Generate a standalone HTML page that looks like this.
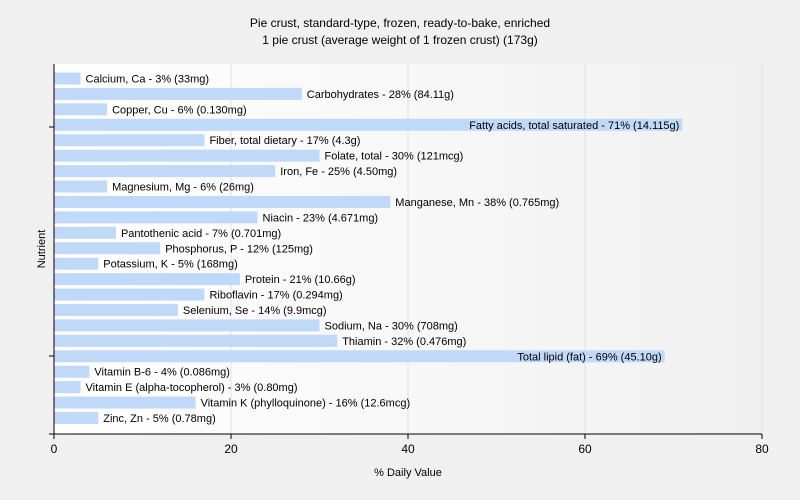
<!DOCTYPE html>
<html><head><meta charset="utf-8"><style>
body{margin:0;background:#f0f0f0;font-family:"Liberation Sans",sans-serif;}
svg{display:block}
</style></head><body>
<svg id="c" width="800" height="500">
<defs><linearGradient id="g" x1="0" x2="1"><stop offset="0" stop-color="#ffffff"/><stop offset="1" stop-color="#f0f0f0"/></linearGradient></defs>
<text x="400" y="27" text-anchor="middle" font-size="12">Pie crust, standard-type, frozen, ready-to-bake, enriched</text>
<text x="400" y="44" text-anchor="middle" font-size="12">1 pie crust (average weight of 1 frozen crust) (173g)</text>
<rect x="54" y="64" width="708" height="370" fill="url(#g)"/>
<g id="grid"></g><g id="bars"></g><g id="axes"></g>
<text x="408" y="476" text-anchor="middle" font-size="11">% Daily Value</text>
<text transform="translate(45,249) rotate(-90)" text-anchor="middle" font-size="11">Nutrient</text>
</svg>
<script>
const categories=["Calcium, Ca","Carbohydrates","Copper, Cu","Fatty acids, total saturated","Fiber, total dietary","Folate, total","Iron, Fe","Magnesium, Mg","Manganese, Mn","Niacin","Pantothenic acid","Phosphorus, P","Potassium, K","Protein","Riboflavin","Selenium, Se","Sodium, Na","Thiamin","Total lipid (fat)","Vitamin B-6","Vitamin E (alpha-tocopherol)","Vitamin K (phylloquinone)","Zinc, Zn"];
const values=[3,28,6,71,17,30,25,6,38,23,7,12,5,21,17,14,30,32,69,4,3,16,5];
const amounts=["33mg","84.11g","0.130mg","14.115g","4.3g","121mcg","4.50mg","26mg","0.765mg","4.671mg","0.701mg","125mg","168mg","10.66g","0.294mg","9.9mcg","708mg","0.476mg","45.10g","0.086mg","0.80mg","12.6mcg","0.78mg"];
const xTicks=[0,20,40,60,80];
const NS="http://www.w3.org/2000/svg";
const x=v=>54+v*708/80;
const y0=72.5,step=(424-72.5-12)/(categories.length-1);
function mk(t,a,p){const e=document.createElementNS(NS,t);for(const k in a)e.setAttribute(k,a[k]);p.appendChild(e);return e;}
const grid=document.getElementById('grid'),bars=document.getElementById('bars'),axes=document.getElementById('axes');
xTicks.forEach(t=>{if(t>0){const l=mk('line',{x1:x(t),x2:x(t),y1:64,y2:434,stroke:'#e0e0e0'},grid);

}
const tk=mk('line',{x1:x(t),x2:x(t),y1:434,y2:439,stroke:'#000'},axes);


const tl=mk('text',{x:x(t),y:453,'text-anchor':'middle','font-size':12},axes);tl.textContent=t;

});
categories.forEach((c,i)=>{const yy=y0+i*step;const w=x(values[i])-54;
const r=mk('rect',{x:54,y:yy,width:w,height:12,fill:'#c0d9f9'},bars);


const lab=c+' - '+values[i]+'% ('+amounts[i]+')';
const inside=values[i]>60;
const t=mk('text',{x:inside?x(values[i])-3:x(values[i])+5,y:yy+10,'font-size':11,'text-anchor':inside?'end':'start',fill:'#000'},bars);t.textContent=lab;

});
const ax=mk('line',{x1:54,x2:54,y1:64,y2:434,stroke:'#000'},axes);


const bx=mk('line',{x1:49,x2:762,y1:434,y2:434,stroke:'#000'},axes);


[127,356].forEach(v=>{const k=mk('line',{x1:49,x2:54,y1:v,y2:v,stroke:'#000'},axes);

});
</script>
</body></html>
